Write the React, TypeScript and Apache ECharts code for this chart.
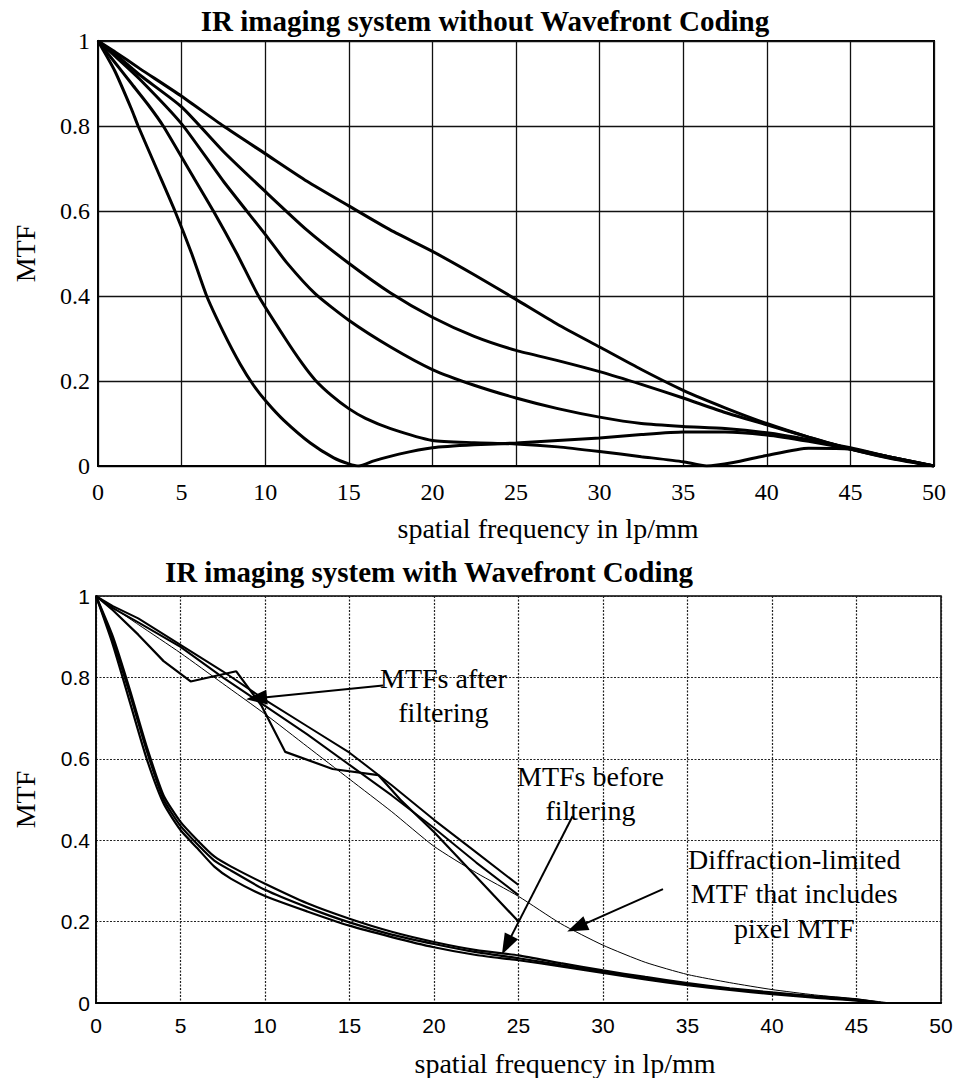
import React, { useEffect, useRef } from "react";
import * as echarts from "echarts";

// ---------- Top chart: IR imaging system without Wavefront Coding ----------
const topCurveA: [number, number][] = [
  [0, 1], [1, 0.975], [2.5, 0.935], [5, 0.87], [7.5, 0.8], [10, 0.735], [12.5, 0.67],
  [15, 0.612], [17.5, 0.555], [20, 0.505], [22.5, 0.45], [25, 0.392], [27.5, 0.333],
  [30, 0.28], [32.5, 0.227], [35, 0.178], [37.5, 0.137], [40, 0.1], [42.5, 0.068],
  [45, 0.04], [47.5, 0.017], [50, 0],
];
const topCurveB: [number, number][] = [
  [0, 1], [1, 0.97], [2.5, 0.92], [5, 0.845], [7.5, 0.74], [10, 0.646], [12.5, 0.555],
  [15, 0.477], [17.5, 0.407], [20, 0.35], [22.5, 0.305], [25, 0.272], [27.5, 0.248],
  [30, 0.222], [32.5, 0.192], [35, 0.16], [37.5, 0.126], [40, 0.097], [42.5, 0.068],
  [45, 0.04], [47.5, 0.018], [50, 0],
];
const topCurveC: [number, number][] = [
  [0, 1], [1, 0.965], [2.5, 0.91], [5, 0.805], [7.5, 0.67], [10, 0.545], [11.3, 0.478],
  [13, 0.405], [15, 0.343], [17.5, 0.28], [20, 0.227], [22.5, 0.19], [25, 0.16],
  [27.5, 0.135], [30, 0.115], [32.5, 0.1], [35, 0.093], [37.5, 0.088], [40, 0.078],
  [42.5, 0.062], [45, 0.043], [47.5, 0.02], [50, 0],
];
const topCurveD: [number, number][] = [
  [0, 1], [1, 0.95], [2, 0.9], [3, 0.85], [3.9, 0.8], [5.4, 0.7], [6.9, 0.6], [8.3, 0.5],
  [9.6, 0.4], [11.2, 0.3], [12.2, 0.242], [13, 0.202], [14, 0.165], [15, 0.135],
  [16, 0.112], [17.5, 0.088], [20, 0.06], [22.5, 0.055], [25, 0.052], [27.5, 0.045],
  [30, 0.034], [32.5, 0.022], [35, 0.01], [36.4, 0], [38, 0.008], [40, 0.025],
  [42.5, 0.042], [45, 0.04], [47.5, 0.02], [50, 0],
];
const topCurveE: [number, number][] = [
  [0, 1], [1, 0.93], [2, 0.84], [2.4, 0.8], [3.5, 0.7], [4.6, 0.6], [5.6, 0.5], [6.5, 0.4],
  [7.5, 0.315], [8.5, 0.24], [9.3, 0.19], [10.1, 0.15], [11.1, 0.108], [12.7, 0.054],
  [14.1, 0.019], [15, 0.005], [15.6, 0], [16.5, 0.012], [18, 0.028], [20, 0.043],
  [22.5, 0.05], [25, 0.054], [27.5, 0.06], [30, 0.066], [32.5, 0.074], [35, 0.08],
  [37.5, 0.08], [40, 0.073], [42.5, 0.058], [45, 0.04], [47.5, 0.02], [50, 0],
];

// ---------- Bottom chart: IR imaging system with Wavefront Coding ----------
const afterFilterA: [number, number][] = [
  [0, 1], [1, 0.975], [2.5, 0.945], [5, 0.88], [7.5, 0.815], [10, 0.745], [12.5, 0.68],
  [15, 0.615], [17.5, 0.535], [20, 0.45], [22.5, 0.37], [25, 0.29],
];
const afterFilterB: [number, number][] = [
  [0, 1], [1, 0.97], [2.5, 0.935], [5, 0.875], [7.5, 0.8], [10, 0.73], [12.5, 0.66],
  [15, 0.585], [17.5, 0.51], [20, 0.43], [22.5, 0.345], [25, 0.265],
];
const afterFilterC: [number, number][] = [
  [0, 1], [1, 0.965], [2.5, 0.905], [4, 0.84], [5.6, 0.79], [8.3, 0.815], [9.8, 0.73],
  [11.2, 0.617], [14, 0.575], [16.7, 0.56], [18, 0.5], [20, 0.42], [22.5, 0.31], [25, 0.2],
];
const diffractionLimited: [number, number][] = [
  [0, 1], [2.5, 0.93], [5, 0.86], [7.5, 0.785], [10, 0.71], [12.5, 0.63], [15, 0.55],
  [17.5, 0.47], [20, 0.385], [22.5, 0.32], [25, 0.262], [27.5, 0.195], [30, 0.142],
  [32.5, 0.1], [35, 0.07], [37.5, 0.05], [40, 0.033], [42.5, 0.02], [45, 0.01], [47, 0],
];
const beforeFilterA: [number, number][] = [
  [0, 1], [1, 0.9], [2, 0.77], [3, 0.63], [4, 0.51], [5, 0.445], [6, 0.4], [7, 0.36],
  [8, 0.335], [10, 0.293], [12.5, 0.245], [15, 0.207], [17.5, 0.175], [20, 0.15],
  [22.5, 0.13], [25, 0.117], [27.5, 0.098], [30, 0.08], [32.5, 0.064], [35, 0.049],
  [37.5, 0.036], [40, 0.026], [42.5, 0.017], [45, 0.009], [46.5, 0],
];
const beforeFilterB: [number, number][] = [
  [0, 1], [1, 0.89], [2, 0.76], [3, 0.62], [4, 0.5], [5, 0.435], [6, 0.39], [7, 0.35],
  [8, 0.325], [10, 0.278], [12.5, 0.235], [15, 0.198], [17.5, 0.168], [20, 0.145],
  [22.5, 0.125], [25, 0.11], [27.5, 0.093], [30, 0.077], [32.5, 0.061], [35, 0.047],
  [37.5, 0.034], [40, 0.024], [42.5, 0.015], [45, 0.007], [46, 0],
];
const beforeFilterC: [number, number][] = [
  [0, 1], [1, 0.88], [2, 0.74], [3, 0.6], [4, 0.49], [5, 0.425], [6, 0.38], [7, 0.335],
  [8, 0.305], [10, 0.263], [12.5, 0.225], [15, 0.19], [17.5, 0.162], [20, 0.137],
  [22.5, 0.118], [25, 0.105], [27.5, 0.09], [30, 0.074], [32.5, 0.058], [35, 0.044],
  [37.5, 0.032], [40, 0.022], [42.5, 0.013], [45, 0.006], [46, 0],
];

// Annotation arrows (tail -> head) in data coordinates of the bottom chart
const arrowAfter: [number, number][] = [[16.98, 0.78], [9.5, 0.749]];
const arrowBefore: [number, number][] = [[28.2, 0.459], [24.3, 0.142]];
const arrowDiffraction: [number, number][] = [[33.55, 0.28], [28.45, 0.186]];

const topTitle = "IR imaging system without Wavefront Coding";
const bottomTitle = "IR imaging system with Wavefront Coding";
const xName = "spatial frequency in lp/mm";
const yName = "MTF";
const noteAfter = "MTFs after\nfiltering";
const noteBefore = "MTFs before\nfiltering";
const noteDiffraction = "Diffraction-limited\nMTF that includes\npixel MTF";

const SERIF = "Liberation Serif";
const SANS = "Liberation Sans";

function lineSeries(data: [number, number][], idx: number, width: number, smooth: number | boolean) {
  return {
    type: "line",
    xAxisIndex: idx,
    yAxisIndex: idx,
    data,
    showSymbol: false,
    symbol: "none",
    smooth,
    silent: true,
    lineStyle: { color: "#000", width },
    itemStyle: { color: "#000" },
  };
}

export default function App() {
  const ref = useRef<HTMLDivElement>(null);
  useEffect(() => {
    document.body.style.margin = "0";
    const chart = echarts.init(ref.current!, null, { renderer: "svg" });
    const arrowItem = (a: [number, number][]) => [
      { coord: a[0], symbol: "none" },
      { coord: a[1], symbol: "triangle", symbolSize: [15, 21] },
    ];
    const noteStyle = (text: string, lh: number) => ({
      text, fontFamily: SERIF, fontSize: 28, lineHeight: lh, fill: "#000", align: "center", textAlign: "center",
    });
    const option: any = {
      animation: false,
      backgroundColor: "#fff",
      title: [
        {
          text: topTitle, left: 485, top: 6, textAlign: "center", padding: 0,
          textStyle: { fontFamily: SERIF, fontWeight: "bold", fontSize: 29, color: "#000" },
        },
        {
          text: bottomTitle, left: 429, top: 557, textAlign: "center", padding: 0,
          textStyle: { fontFamily: SERIF, fontWeight: "bold", fontSize: 29, color: "#000" },
        },
      ],
      grid: [
        { left: 98, top: 41, width: 836, height: 425, show: true, borderColor: "#000", borderWidth: 2, backgroundColor: "transparent" },
        { left: 96, top: 596, width: 845, height: 410, show: true, borderColor: "#000", borderWidth: 1.5, backgroundColor: "transparent" },
      ],
      xAxis: [
        {
          gridIndex: 0, type: "value", min: 0, max: 50, interval: 5,
          axisLine: { show: true, lineStyle: { color: "#000", width: 2 } },
          axisTick: { show: false },
          axisLabel: { fontFamily: SERIF, fontSize: 24, color: "#000", margin: 14 },
          splitLine: { show: true, lineStyle: { color: "#111", width: 1.3 } },
          name: xName, nameLocation: "middle", nameGap: 48,
          nameTextStyle: { fontFamily: SERIF, fontSize: 28, color: "#000", padding: [0, 0, 0, 64] },
        },
        {
          gridIndex: 1, type: "value", min: 0, max: 50, interval: 5,
          axisLine: { show: true, lineStyle: { color: "#000", width: 2 } },
          axisTick: { show: false },
          axisLabel: { fontFamily: SANS, fontSize: 21, color: "#000", margin: 12 },
          splitLine: { show: true, lineStyle: { color: "#222", width: 1.2, type: [2, 1.5] } },
          name: xName, nameLocation: "middle", nameGap: 46,
          nameTextStyle: { fontFamily: SERIF, fontSize: 28, color: "#000", padding: [0, 0, 0, 93] },
        },
      ],
      yAxis: [
        {
          gridIndex: 0, type: "value", min: 0, max: 1, interval: 0.2,
          axisLine: { show: true, lineStyle: { color: "#000", width: 1.5 } },
          axisTick: { show: false },
          axisLabel: { fontFamily: SERIF, fontSize: 24, color: "#000", margin: 8 },
          splitLine: { show: true, lineStyle: { color: "#111", width: 1.3 } },
          name: yName, nameLocation: "middle", nameGap: 59, nameRotate: 90,
          nameTextStyle: { fontFamily: SERIF, fontSize: 28, color: "#000" },
        },
        {
          gridIndex: 1, type: "value", min: 0, max: 1, interval: 0.2,
          axisLine: { show: true, lineStyle: { color: "#000", width: 1.5 } },
          axisTick: { show: false },
          axisLabel: { fontFamily: SANS, fontSize: 21, color: "#000", margin: 6 },
          splitLine: { show: true, lineStyle: { color: "#222", width: 1.2, type: [2, 1.5] } },
          name: yName, nameLocation: "middle", nameGap: 57, nameRotate: 90,
          nameTextStyle: { fontFamily: SERIF, fontSize: 28, color: "#000" },
        },
      ],
      series: [
        lineSeries(topCurveA, 0, 3, 0.2),
        lineSeries(topCurveB, 0, 3, 0.2),
        lineSeries(topCurveC, 0, 3, 0.2),
        lineSeries(topCurveD, 0, 3, 0.2),
        lineSeries(topCurveE, 0, 3, 0.2),
        lineSeries(afterFilterA, 1, 2, false),
        lineSeries(afterFilterB, 1, 2, false),
        lineSeries(afterFilterC, 1, 2.2, false),
        {
          ...lineSeries(diffractionLimited, 1, 1, 0.2),
          markLine: {
            silent: true,
            animation: false,
            symbol: ["none", "triangle"],
            label: { show: false },
            lineStyle: { color: "#000", width: 2, type: "solid" },
            itemStyle: { color: "#000" },
            emphasis: { disabled: true },
            data: [arrowItem(arrowAfter), arrowItem(arrowBefore), arrowItem(arrowDiffraction)],
          },
        },
        lineSeries(beforeFilterA, 1, 2.2, 0.2),
        lineSeries(beforeFilterB, 1, 2.2, 0.2),
        lineSeries(beforeFilterC, 1, 2.2, 0.2),
      ],
      graphic: [
        { type: "text", left: 380, top: 661, z: 100, style: noteStyle(noteAfter, 34) },
        { type: "text", left: 517, top: 759, z: 100, style: noteStyle(noteBefore, 34) },
        { type: "text", left: 688, top: 842, z: 100, style: noteStyle(noteDiffraction, 34.5) },
      ],
    };
    chart.setOption(option);
    return () => chart.dispose();
  }, []);
  return <div ref={ref} style={{ width: 959, height: 1078 }} />;
}
